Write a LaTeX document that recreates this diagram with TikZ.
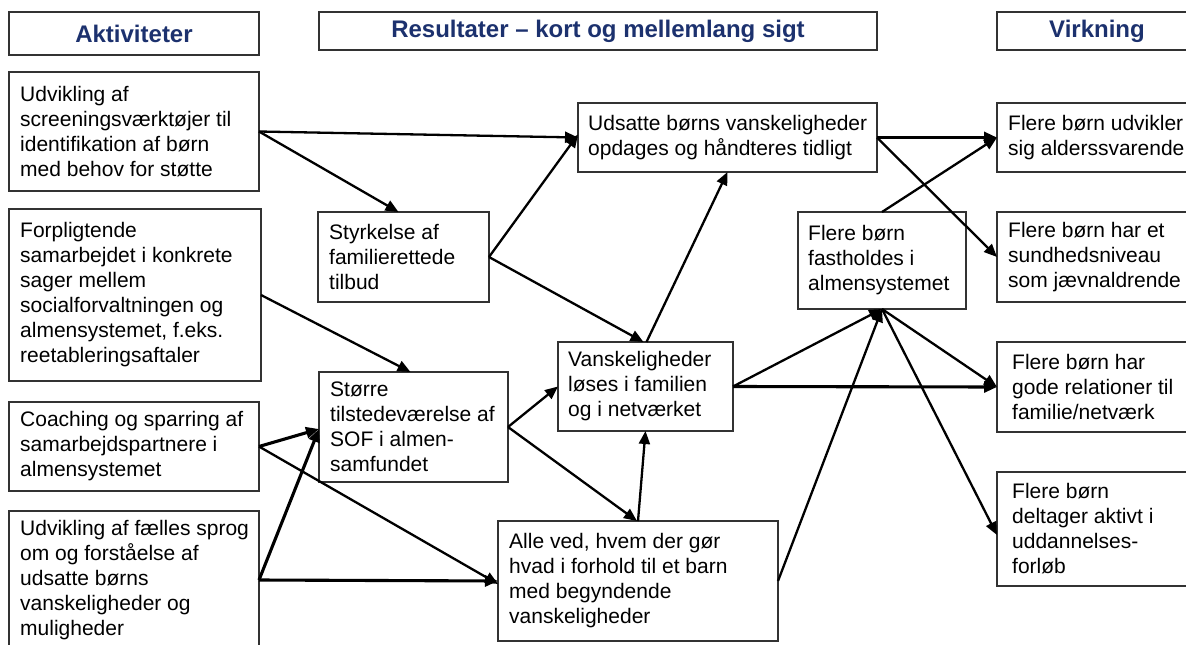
\documentclass[tikz,border=0pt]{standalone}
\usepackage{fontspec}
\setmainfont{Liberation Sans}
\usetikzlibrary{arrows.meta}
\definecolor{navy}{RGB}{28,49,110}
\definecolor{frame}{RGB}{50,50,50}
\tikzset{
  box/.style={draw=frame, line width=1.1pt, rectangle, inner sep=0pt, outer sep=0pt, anchor=north west},
  hdr/.style={box, font=\fontsize{24}{28}\selectfont\bfseries, text=navy},
  txt/.style={anchor=west, align=left, inner sep=0pt, font=\fontsize{21}{25}\selectfont},
  conn/.style={line width=2.3pt, -{Triangle[length=13pt,width=11pt]}},
  thick conn/.style={line width=3.1pt, -{Triangle[length=13pt,width=11pt]}},
}
\newcommand{\mkbox}[5]{\node[box, minimum width={#4-#2}, minimum height={#5-#3}] (#1) at (#2,#3) {};}
\begin{document}
\begin{tikzpicture}[x=1pt,y=-1pt]
\clip (0,0) rectangle (1186,645);
\fill[white] (0,0) rectangle (1186,645);
% headers
\node[hdr, minimum width=250, minimum height=43] (h1) at (9,12) {Aktiviteter};
\node[hdr, minimum width=558, minimum height=38] (h2) at (319,12) {Resultater – kort og mellemlang sigt};
\node[hdr, minimum width=200, minimum height=38] (h3) at (997,12) {Virkning};
% boxes
\mkbox{a1}{9}{72}{259}{191}
\mkbox{a2}{9}{209}{261}{381}
\mkbox{a3}{9}{402}{259}{491}
\mkbox{a4}{9}{511}{259}{649}
\mkbox{styr}{318}{212}{489}{302}
\mkbox{stor}{319}{372}{508}{482}
\mkbox{uds}{578}{103}{877}{172}
\mkbox{vans}{558}{342}{733}{431}
\mkbox{alle}{498}{521}{778}{641}
\mkbox{fast}{798}{212}{966}{309}
\mkbox{v1}{997}{103}{1197}{172}
\mkbox{v2}{997}{212}{1197}{302}
\mkbox{v3}{997}{342}{1197}{432}
\mkbox{v4}{997}{472}{1197}{586}
% texts
\node[txt] (ta1) at ([xshift=11pt]a1.west) {Udvikling af\\screeningsværktøjer til\\identifikation af børn\\med behov for støtte};
\node[txt] (ta2) at ([xshift=11pt]a2.west) {Forpligtende\\samarbejdet i konkrete\\sager mellem\\socialforvaltningen og\\almensystemet, f.eks.\\reetableringsaftaler};
\node[txt] (ta3) at ([xshift=11pt]a3.west) {Coaching og sparring af\\samarbejdspartnere i\\almensystemet};
\node[txt] (ta4) at ([xshift=11pt]a4.west) {Udvikling af fælles sprog\\om og forståelse af\\udsatte børns\\vanskeligheder og\\muligheder};
\node[txt] (tstyr) at ([xshift=11pt]styr.west) {Styrkelse af\\familierettede\\tilbud};
\node[txt] (tstor) at ([xshift=11pt]stor.west) {Større\\tilstedeværelse af\\SOF i almen-\\samfundet};
\node[txt] (tuds) at ([xshift=10pt]uds.west) {Udsatte børns vanskeligheder\\opdages og håndteres tidligt};
\node[txt] (tvans) at ([xshift=10pt]vans.west) {Vanskeligheder\\løses i familien\\og i netværket};
\node[txt] (talle) at ([xshift=11pt]alle.west) {Alle ved, hvem der gør\\hvad i forhold til et barn\\med begyndende\\vanskeligheder};
\node[txt] (tfast) at ([xshift=10pt]fast.west) {Flere børn\\fastholdes i\\almensystemet};
\node[txt] (tv1) at ([xshift=11pt]v1.west) {Flere børn udvikler\\sig alderssvarende};
\node[txt] (tv2) at ([xshift=11pt]v2.west) {Flere børn har et\\sundhedsniveau\\som jævnaldrende};
\node[txt] (tv3) at ([xshift=15pt]v3.west) {Flere børn har\\gode relationer til\\familie/netværk};
\node[txt] (tv4) at ([xshift=15pt]v4.west) {Flere børn\\deltager aktivt i\\uddannelses-\\forløb};
% connectors
\draw[conn] (a1.east) -- (uds.west);
\draw[conn] (a1.east) -- ([xshift=-5pt]styr.north);
\draw[conn] (styr.east) -- ([yshift=3pt]uds.west);
\draw[conn] (styr.east) -- ([xshift=-2pt]vans.north);
\draw[conn] ([xshift=1pt]vans.north) -- (uds.south);
\draw[conn] (a2.east) -- ([xshift=-3pt]stor.north);
\draw[thick conn] (a3.east) -- ([yshift=-2pt]stor.west);
\draw[conn] (a3.east) -- ([yshift=-3pt]alle.west);
\draw[thick conn] (a4.east) -- ([yshift=-2pt]stor.west);
\draw[thick conn] (a4.east) -- (alle.west);
\draw[conn] (stor.east) -- (vans.west);
\draw[conn] (stor.east) -- ([xshift=-1pt]alle.north);
\draw[conn] (alle.north) -- (vans.south);
\draw[conn] (vans.east) -- (fast.south);
\draw[thick conn] (vans.east) -- (v3.west);
\draw[conn] (alle.east) -- (fast.south);
\draw[conn] (fast.south) -- (v3.west);
\draw[conn] (fast.south) -- ([yshift=-6pt]v4.west);
\draw[conn] (fast.north) -- (v1.west);
\draw[thick conn] (uds.east) -- (v1.west);
\draw[conn] (uds.east) -- (v2.west);
\end{tikzpicture}
\end{document}
